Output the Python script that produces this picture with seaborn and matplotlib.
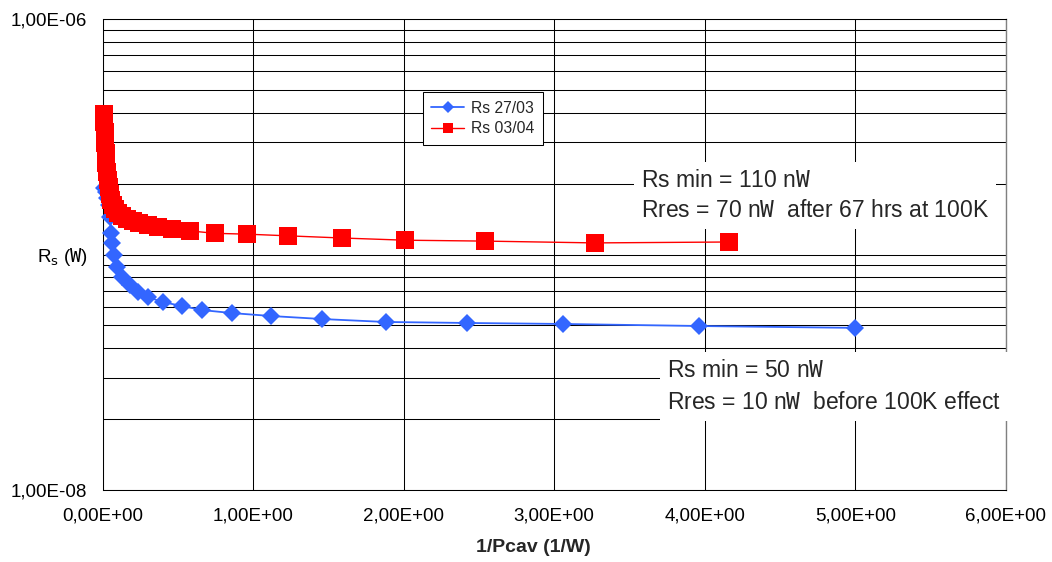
import matplotlib
matplotlib.use("Agg")
import matplotlib.pyplot as plt
import seaborn as sns
from matplotlib.ticker import LogLocator, NullFormatter

# ---- data ----
blue_label = "Rs 27/03"
blue_x = [5.00, 3.96, 3.06, 2.42, 1.88, 1.46, 1.12, 0.86, 0.66, 0.53, 0.40, 0.30,
          0.235, 0.18, 0.13, 0.095, 0.075, 0.065, 0.058, 0.05, 0.04, 0.03, 0.02, 0.012]
blue_y = [4.88e-8, 4.97e-8, 5.07e-8, 5.12e-8, 5.17e-8, 5.32e-8, 5.48e-8, 5.64e-8,
          5.81e-8, 6.04e-8, 6.28e-8, 6.60e-8, 6.93e-8, 7.42e-8, 8.03e-8, 8.85e-8,
          9.95e-8, 1.12e-7, 1.23e-7, 1.44e-7, 1.62e-7, 1.74e-7, 1.84e-7, 1.92e-7]

red_label = "Rs 03/04"
red_x = [4.16, 3.27, 2.54, 2.01, 1.59, 1.235, 0.96, 0.745, 0.58, 0.46, 0.37, 0.30,
         0.245, 0.20, 0.16, 0.13, 0.105, 0.085, 0.07, 0.058, 0.048, 0.04, 0.034,
         0.028, 0.024, 0.02, 0.017, 0.014, 0.012, 0.01]
red_y = [1.13e-7, 1.12e-7, 1.14e-7, 1.15e-7, 1.175e-7, 1.20e-7, 1.22e-7, 1.23e-7,
         1.26e-7, 1.28e-7, 1.31e-7, 1.335e-7, 1.36e-7, 1.39e-7, 1.415e-7, 1.46e-7,
         1.50e-7, 1.56e-7, 1.62e-7, 1.70e-7, 1.81e-7, 1.93e-7, 2.07e-7, 2.24e-7,
         2.45e-7, 2.70e-7, 2.98e-7, 3.31e-7, 3.65e-7, 3.95e-7]

xtick_vals = [0, 1, 2, 3, 4, 5, 6]
xtick_labels = ["0,00E+00", "1,00E+00", "2,00E+00", "3,00E+00",
                "4,00E+00", "5,00E+00", "6,00E+00"]
ytick_vals = [1e-8, 1e-7, 1e-6]
ytick_labels = ["1,00E-08", r"R$_\mathrm{s}$ ($\mathtt{W}$)", "1,00E-06"]

x_label = "1/Pcav (1/W)"
note_top = "Rs min = 110 n$\\mathtt{W}$\nRres = 70 n$\\mathtt{W}$  after 67 hrs at 100K"
note_bottom = "Rs min = 50 n$\\mathtt{W}$\nRres = 10 n$\\mathtt{W}$  before 100K effect"

# ---- style ----
sns.set_style("white")
plt.rcParams["font.family"] = ["Liberation Sans", "DejaVu Sans"]
plt.rcParams["mathtext.fontset"] = "dejavusans"

fig = plt.figure(figsize=(10.52, 5.62), dpi=100)
ax = fig.add_axes([102.5 / 1052, 1 - 490 / 562, (1006 - 102.5) / 1052, (490 - 19) / 562])
ax.set_facecolor("white")

sns.lineplot(x=blue_x, y=blue_y, ax=ax, sort=False, estimator=None,
             color="#3366FF", marker="D", markersize=9.5, markeredgewidth=0,
             linewidth=1.3, label=blue_label, zorder=4, clip_on=False)
sns.lineplot(x=red_x, y=red_y, ax=ax, sort=False, estimator=None,
             color="#FF0000", marker="s", markersize=13.5, markeredgewidth=0,
             linewidth=1.0, label=red_label, zorder=5, clip_on=False)

ax.set_yscale("log")
ax.set_xlim(0, 6)
ax.set_ylim(1e-8, 1e-6)
ax.set_xticks(xtick_vals)
ax.set_xticklabels(xtick_labels)
ax.set_yticks(ytick_vals)
ax.set_yticklabels(ytick_labels)
ax.yaxis.set_minor_locator(LogLocator(base=10, subs=range(2, 10), numticks=30))
ax.yaxis.set_minor_formatter(NullFormatter())

ax.tick_params(which="major", direction="out", length=4.3, width=0.75,
               labelsize=13.5, colors="black")
ax.tick_params(axis="x", pad=8)
ax.tick_params(axis="y", pad=6.5)
ax.tick_params(which="minor", length=0)
ax.set_axisbelow(True)
ax.grid(True, which="both", axis="y", color="black", linewidth=0.75)
ax.grid(True, which="major", axis="x", color="black", linewidth=0.75)

for side in ["left", "bottom", "top"]:
    ax.spines[side].set_color("black")
    ax.spines[side].set_linewidth(0.75)
ax.spines["right"].set_color("#808080")
ax.spines["right"].set_linewidth(1.0)

ax.set_xlabel(x_label, fontsize=14, fontweight="bold")
ax.xaxis.set_label_coords((534 - 102.5) / 904, -(548 - 490) / 471)
ax.xaxis.label.set_va("center")
ax.set_ylabel("")

leg = ax.legend(loc="upper left", bbox_to_anchor=((423 - 102.5) / 904, 1 - (92 - 19) / 471),
                borderaxespad=0, fontsize=11.3, frameon=True, fancybox=False,
                edgecolor="black", framealpha=1, handlelength=2.1,
                labelspacing=0.35, borderpad=0.55, handletextpad=0.4)
leg.get_frame().set_linewidth(0.75)
for h in leg.legend_handles:
    h.set_markersize(6.5)

box = dict(facecolor="white", edgecolor="none", pad=5)
ax.text((641 - 102.5) / 904, 1 - (169 - 19) / 471, note_top, transform=ax.transAxes,
        ha="left", va="top", fontsize=16.5, linespacing=1.4, bbox=box, zorder=3)
ax.text((667 - 102.5) / 904, 1 - (359 - 19) / 471, note_bottom, transform=ax.transAxes,
        ha="left", va="top", fontsize=16.5, linespacing=1.5, bbox=box, zorder=3)

fig.savefig("out.png", dpi=100, facecolor="white")
